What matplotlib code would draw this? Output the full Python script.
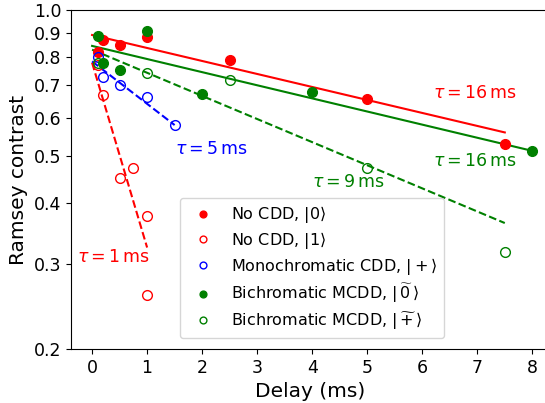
import numpy as np
import matplotlib
matplotlib.use('Agg')
import matplotlib.pyplot as plt

# measured points, delay in ms
t_nocdd0 = [0.1, 0.2, 0.5, 1.0, 2.5, 5.0, 7.5]
c_nocdd0 = [0.82, 0.87, 0.85, 0.88, 0.79, 0.655, 0.53]

t_nocdd1 = [0.1, 0.2, 0.5, 0.75, 1.0, 1.0]
c_nocdd1 = [0.77, 0.67, 0.45, 0.473, 0.376, 0.258]

t_mono = [0.1, 0.2, 0.5, 1.0, 1.5]
c_mono = [0.80, 0.73, 0.703, 0.662, 0.58]

t_bi0 = [0.1, 0.2, 0.5, 1.0, 2.0, 4.0, 8.0]
c_bi0 = [0.884, 0.778, 0.754, 0.909, 0.673, 0.68, 0.513]

t_biplus = [0.1, 1.0, 2.5, 5.0, 7.5]
c_biplus = [0.78, 0.742, 0.719, 0.473, 0.317]

# exponential fits (straight on log axis) -> start / end points
fit_red0_t, fit_red0_c = [0, 7.5], [0.89, 0.56]
fit_red1_t, fit_red1_c = [0, 1.0], [0.78, 0.324]
fit_mono_t, fit_mono_c = [0, 1.5], [0.785, 0.58]
fit_bi0_t, fit_bi0_c = [0, 8.0], [0.845, 0.513]
fit_biplus_t, fit_biplus_c = [0, 7.5], [0.83, 0.364]

yticks = [0.2, 0.3, 0.4, 0.5, 0.6, 0.7, 0.8, 0.9, 1.0]
xticks = [0, 1, 2, 3, 4, 5, 6, 7, 8]

fig = plt.figure(figsize=(5.45, 4.03), dpi=100)
ax = fig.add_axes([0.131, 0.134, 0.876, 0.840])

ms = 7
ax.plot(fit_red0_t, fit_red0_c, '-', color='red', lw=1.5)
ax.plot(fit_red1_t, fit_red1_c, '--', color='red', lw=1.5)
ax.plot(fit_mono_t, fit_mono_c, '--', color='blue', lw=1.5)
ax.plot(fit_bi0_t, fit_bi0_c, '-', color='green', lw=1.5)
ax.plot(fit_biplus_t, fit_biplus_c, '--', color='green', lw=1.5)

ax.plot(t_nocdd0, c_nocdd0, 'o', color='red', ms=ms, label=r'No CDD, $|0\rangle$')
ax.plot(t_nocdd1, c_nocdd1, 'o', color='red', mfc='none', ms=ms, label=r'No CDD, $|1\rangle$')
ax.plot(t_mono, c_mono, 'o', color='blue', mfc='none', ms=ms,
        label=r'Monochromatic CDD, $|+\rangle$')
ax.plot(t_bi0, c_bi0, 'o', color='green', ms=ms,
        label=r'Bichromatic MCDD, $|\,\widetilde{0}\,\rangle$')
ax.plot(t_biplus, c_biplus, 'o', color='green', mfc='none', ms=ms,
        label=r'Bichromatic MCDD, $|\,\widetilde{+}\,\rangle$')

ax.text(6.2, 0.675, r'$\tau = 16\,\mathrm{ms}$', color='red', fontsize=12.5, va='center')
ax.text(6.2, 0.49, r'$\tau = 16\,\mathrm{ms}$', color='green', fontsize=12.5, va='center')
ax.text(4.0, 0.443, r'$\tau = 9\,\mathrm{ms}$', color='green', fontsize=12.5, va='center')
ax.text(1.5, 0.518, r'$\tau = 5\,\mathrm{ms}$', color='blue', fontsize=12.5, va='center')
ax.text(-0.27, 0.31, r'$\tau = 1\,\mathrm{ms}$', color='red', fontsize=12.5, va='center')

ax.set_yscale('log')
ax.set_ylim(0.2, 1.0)
ax.set_xlim(-0.376, 8.3)
ax.set_yticks(yticks)
ax.set_yticklabels([f'{v:.1f}' for v in yticks])
ax.yaxis.set_minor_locator(matplotlib.ticker.NullLocator())
ax.set_xticks(xticks)
ax.tick_params(labelsize=12.5)

ax.set_xlabel('Delay (ms)', fontsize=14.5)
ax.set_ylabel('Ramsey contrast', fontsize=14.5)

ax.legend(loc='lower left', bbox_to_anchor=(0.228, 0.032), borderaxespad=0,
          fontsize=11.5, markerscale=0.7, labelspacing=0.3)

fig.savefig('out.png', dpi=100)
